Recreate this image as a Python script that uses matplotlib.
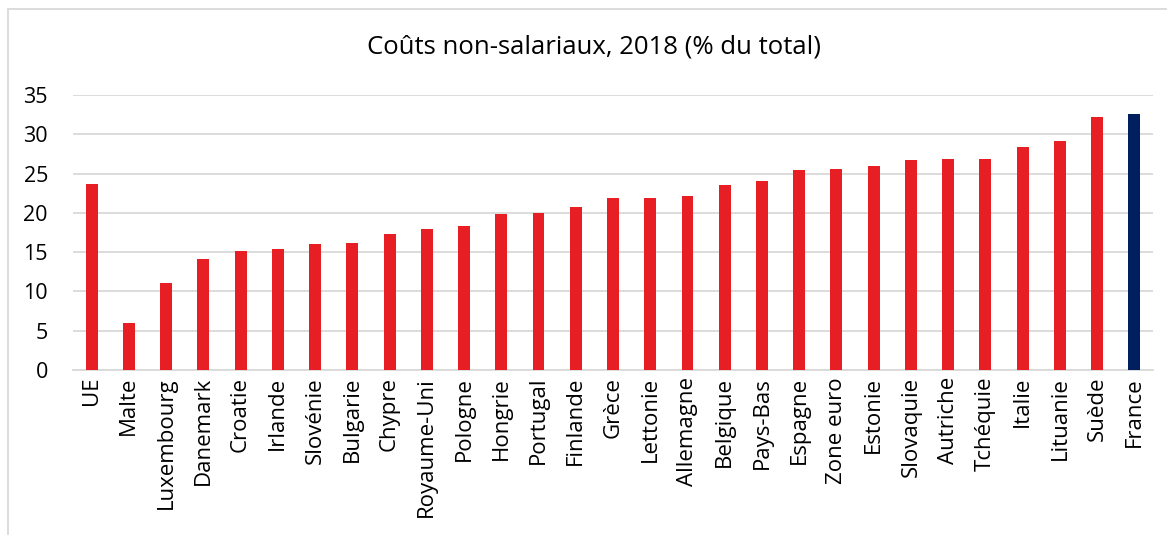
import matplotlib
matplotlib.use("Agg")
import matplotlib.pyplot as plt
from matplotlib.patches import Rectangle

plt.rcParams["font.family"] = ["Open Sans", "DejaVu Sans"]

pays = ["UE", "Malte", "Luxembourg", "Danemark", "Croatie", "Irlande", "Slovénie",
        "Bulgarie", "Chypre", "Royaume-Uni", "Pologne", "Hongrie", "Portugal",
        "Finlande", "Grèce", "Lettonie", "Allemagne", "Belgique", "Pays-Bas",
        "Espagne", "Zone euro", "Estonie", "Slovaquie", "Autriche", "Tchéquie",
        "Italie", "Lituanie", "Suède", "France"]
valeurs = [23.7, 6.0, 11.1, 14.1, 15.2, 15.4, 16.0, 16.2, 17.3, 18.0, 18.3, 19.8,
           20.0, 20.7, 21.9, 21.9, 22.2, 23.5, 24.0, 25.5, 25.6, 26.0, 26.7, 26.8,
           26.9, 28.4, 29.2, 32.2, 32.6]
yticks = [0, 5, 10, 15, 20, 25, 30, 35]

RED = "#e81e25"
NAVY = "#001f5f"
colors = [NAVY if p == "France" else RED for p in pays]

fig = plt.figure(figsize=(11.67, 5.35), dpi=100)
ax = fig.add_axes([73 / 1167, 165 / 535, 1080 / 1167, 275 / 535])

x = range(len(pays))
ax.bar(x, valeurs, width=0.32, color=colors, zorder=3)

ax.set_xlim(-0.5, len(pays) - 0.5)
ax.set_ylim(0, 35)
ax.set_yticks(yticks)
ax.set_xticks(list(x))
ax.set_xticklabels(pays, rotation=90, fontsize=16)
ax.tick_params(axis="y", labelsize=15.5, length=0, pad=18)
ax.tick_params(axis="x", length=0, pad=5)
ax.grid(axis="y", color="#d9d9d9", lw=1.3, zorder=0)
for s in ["left", "right", "top"]:
    ax.spines[s].set_visible(False)
ax.spines["bottom"].set_color("#d9d9d9")
ax.spines["bottom"].set_linewidth(1.3)

fig.text(594 / 1167, 1 - 47 / 535, "Coûts non-salariaux, 2018 (% du total)",
         ha="center", va="center", fontsize=18.5)

# cadre gris du graphique
fig.patches.append(Rectangle((8 / 1167, -0.05), 1.1, 1 - 9 / 535 + 0.05,
                             transform=fig.transFigure, fill=False,
                             edgecolor="#d9d9d9", lw=1.3))

fig.savefig("out.png", dpi=100)
